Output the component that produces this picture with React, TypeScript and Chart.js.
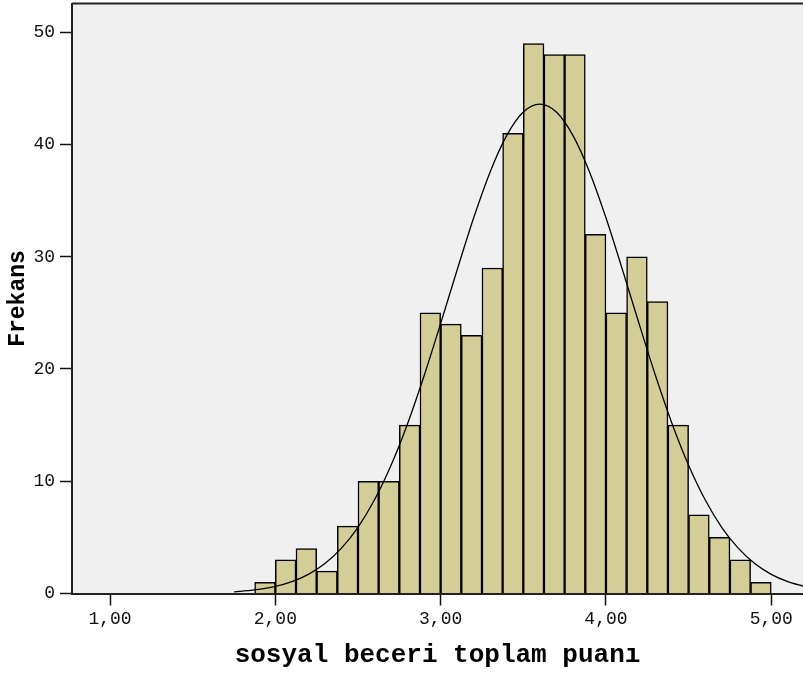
import React, { useEffect, useRef } from "react";
import { Chart, registerables } from "chart.js";

Chart.register(...registerables);

// Histogram bins (bin width 0.125) – bin centres and frequencies
const binCenters = [
  1.9375, 2.0625, 2.1875, 2.3125, 2.4375, 2.5625, 2.6875, 2.8125, 2.9375,
  3.0625, 3.1875, 3.3125, 3.4375, 3.5625, 3.6875, 3.8125, 3.9375, 4.0625,
  4.1875, 4.3125, 4.4375, 4.5625, 4.6875, 4.8125, 4.9375,
];
const frequencies = [
  1, 3, 4, 2, 6, 10, 10, 15, 25, 24, 23, 29, 41, 49, 48, 48, 32, 25, 30, 26,
  15, 7, 5, 3, 1,
];

// Normal curve
const curveX = [
  1.75, 1.8, 1.9, 2.0, 2.1, 2.2, 2.3, 2.4, 2.5, 2.6, 2.7, 2.8, 2.9, 3.0, 3.1,
  3.2, 3.3, 3.4, 3.5, 3.6, 3.7, 3.8, 3.9, 4.0, 4.1, 4.2, 4.3, 4.4, 4.5, 4.6,
  4.7, 4.8, 4.9, 5.0, 5.1, 5.2,
];
const curveY = [
  0.15, 0.21, 0.37, 0.63, 1.06, 1.71, 2.67, 4.04, 5.9, 8.35, 11.43, 15.13,
  19.4, 24.05, 28.84, 33.47, 37.58, 40.81, 42.89, 43.6, 42.89, 40.81, 37.58,
  33.47, 28.84, 24.05, 19.4, 15.13, 11.43, 8.35, 5.9, 4.04, 2.67, 1.71, 1.06,
  0.63,
];

const xTickValues = [1, 2, 3, 4, 5];
const yTickValues = [0, 10, 20, 30, 40, 50];

const xTitle = "sosyal beceri toplam puanı";
const yTitle = "Frekans";

const plotBgPlugin = {
  id: "plotBg",
  beforeDraw(chart: any) {
    const { ctx, chartArea } = chart;
    ctx.save();
    ctx.fillStyle = "#FFFFFF";
    ctx.fillRect(0, 0, chart.width, chart.height);
    ctx.fillStyle = "#F0F0F0";
    ctx.fillRect(
      chartArea.left,
      chartArea.top,
      chartArea.right - chartArea.left,
      chartArea.bottom - chartArea.top
    );
    ctx.restore();
  },
  afterDraw(chart: any) {
    const { ctx, chartArea } = chart;
    ctx.save();
    ctx.strokeStyle = "#222";
    ctx.lineWidth = 2;
    ctx.beginPath();
    ctx.moveTo(chartArea.left, chartArea.top);
    ctx.lineTo(chartArea.right, chartArea.top);
    ctx.stroke();
    ctx.restore();
  },
};

const fmt = (v: number) => v.toFixed(2).replace(".", ",");

export default function App() {
  const ref = useRef<HTMLCanvasElement | null>(null);

  useEffect(() => {
    if (!ref.current) return;
    const chart = new Chart(ref.current, {
      type: "bar",
      data: {
        datasets: [
          {
            type: "line",
            data: curveX.map((x, i) => ({ x, y: curveY[i] })),
            borderColor: "#000",
            borderWidth: 1.3,
            pointRadius: 0,
            cubicInterpolationMode: "monotone",
            fill: false,
            order: 0,
          } as any,
          {
            type: "bar",
            data: binCenters.map((x, i) => ({ x, y: frequencies[i] })),
            backgroundColor: "#D3CE98",
            borderColor: "#000",
            borderWidth: 1.5,
            borderSkipped: "bottom",
            barPercentage: 1,
            categoryPercentage: 1,
            order: 1,
          } as any,
        ],
      },
      options: {
        animation: false,
        responsive: false,
        devicePixelRatio: 1,
        layout: { padding: { top: 3.5, left: 0, right: 0, bottom: 0 } },
        plugins: {
          legend: { display: false },
          tooltip: { enabled: false },
        },
        scales: {
          x: {
            type: "linear",
            min: 0.77,
            max: 5.192,
            offset: false,
            afterBuildTicks: (s: any) => {
              s.ticks = xTickValues.map((value) => ({ value }));
            },
            afterFit: (s: any) => {
              s.height = 79.5;
              s.paddingLeft = 0;
              s.paddingRight = 0;
            },
            grid: {
              drawOnChartArea: false,
              drawTicks: true,
              tickLength: 12,
              tickColor: "#111",
              tickWidth: 1.5,
              offset: false,
            },
            border: { display: true, color: "#222", width: 2 },
            ticks: {
              autoSkip: false,
              maxRotation: 0,
              padding: 3,
              color: "#111",
              font: { family: "'Liberation Mono', monospace", size: 18 },
              callback: (v: any) => fmt(Number(v)),
            },
            title: {
              display: true,
              text: xTitle,
              color: "#000",
              padding: { top: 0, bottom: 5 },
              font: {
                family: "'Liberation Mono', monospace",
                size: 26,
                weight: "bold",
                lineHeight: 1,
              },
            },
          },
          y: {
            type: "linear",
            min: 0,
            max: 52.56,
            afterBuildTicks: (s: any) => {
              s.ticks = yTickValues.map((value) => ({ value }));
            },
            afterFit: (s: any) => {
              s.width = 72;
              s.paddingTop = 0;
              s.paddingBottom = 0;
            },
            grid: {
              drawOnChartArea: false,
              drawTicks: true,
              tickLength: 12,
              tickColor: "#111",
              tickWidth: 1.5,
            },
            border: { display: true, color: "#222", width: 2 },
            ticks: {
              padding: 5,
              color: "#111",
              font: { family: "'Liberation Mono', monospace", size: 18 },
              callback: (v: any) => String(v),
            },
            title: {
              display: true,
              text: yTitle,
              color: "#000",
              padding: { top: 6.5, bottom: 0 },
              font: {
                family: "'Liberation Mono', monospace",
                size: 23,
                weight: "bold",
                lineHeight: 1,
              },
            },
          },
        },
      },
      plugins: [plotBgPlugin],
    });
    return () => chart.destroy();
  }, []);

  return (
    <div style={{ position: "fixed", left: 0, top: 0, width: 803, height: 673, background: "#fff" }}>
      <canvas ref={ref} width={803} height={673} style={{ width: 803, height: 673, display: "block" }} />
    </div>
  );
}
